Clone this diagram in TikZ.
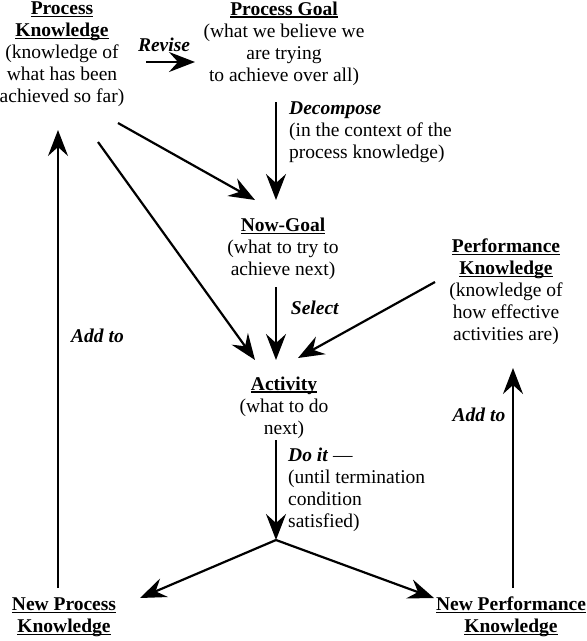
\documentclass[tikz,border=0pt]{standalone}
\usepackage{fontspec}
\setmainfont{Liberation Serif}
\usetikzlibrary{arrows.meta}
\newcommand{\hd}[1]{\setbox0\hbox{\textbf{#1}}\rlap{\rule[-2.6pt]{\wd0}{1.3pt}}\box0}
\newcommand{\lb}[1]{\textbf{\textit{#1}}}
\begin{document}
\begin{tikzpicture}[x=1pt,y=-1pt,
  txt/.style={inner sep=0pt, align=center, font=\fontsize{19.5}{22}\selectfont},
  ltxt/.style={inner sep=0pt, align=left, font=\fontsize{19.5}{22}\selectfont},
  arr/.style={line width=2.2pt, -{Stealth[length=26pt,width=20pt,inset=9pt]}},
  ln/.style={line width=2.2pt}]
\useasboundingbox (0,0) rectangle (587,641);
% nodes
\node[txt] (pk) at (62,54) {\hd{Process}\\\hd{Knowledge}\\(knowledge of\\what has been\\achieved so far)};
\node[txt] (pg) at (284,43.5) {\hd{Process Goal}\\(what we believe we\\are trying\\to achieve over all)};
\node[txt] (ng) at (283,249) {\hd{Now-Goal}\\(what to try to\\achieve next)};
\node[txt] (pfk) at (506,291.5) {\hd{Performance}\\\hd{Knowledge}\\(knowledge of\\how effective\\activities are)};
\node[txt] (act) at (284,407.5) {\hd{Activity}\\(what to do\\next)};
\node[txt] (npk) at (64,617) {\hd{New Process}\\\hd{Knowledge}};
\node[txt] (npfk) at (511,617) {\hd{New Performance}\\\hd{Knowledge}};
% labels
\node[txt] (lrev) at (164,45) {\lb{Revise}};
\node[ltxt, anchor=west] (ldec) at (289,132) {\lb{Decompose}\\(in the context of the\\process knowledge)};
\node[txt] (lsel) at (315,308) {\lb{Select}};
\node[txt] (ladd1) at (97.5,336) {\lb{Add to}};
\node[txt] (ladd2) at (479,415) {\lb{Add to}};
\node[ltxt, anchor=west] (ldo) at (288,489.5) {\lb{Do it} ---\\(until termination\\condition\\satisfied)};
% connector end points
\coordinate (revA) at (146,62);
\coordinate (revB) at (195,62);
\coordinate (decA) at (276,102);
\coordinate (ngTop) at (276,200);
\coordinate (pkA) at (118,123);
\coordinate (ngIn) at (255,200);
\coordinate (pkB) at (98,142);
\coordinate (actL) at (255,360);
\coordinate (selA) at (276,287);
\coordinate (actM) at (276,360);
\coordinate (pfA) at (435,282);
\coordinate (actR) at (298,358);
\coordinate (doA) at (276,440);
\coordinate (br) at (276,540);
\coordinate (npkIn) at (140,598);
\coordinate (npfkIn) at (434,598);
\coordinate (npkUp) at (58,588);
\coordinate (pkIn) at (58,130);
\coordinate (npfkUp) at (513,588);
\coordinate (pfkIn) at (513,368);
% connectors
\draw[arr] (revA) -- (revB);
\draw[arr] (decA) -- (ngTop);
\draw[arr] (pkA) -- (ngIn);
\draw[arr] (pkB) -- (actL);
\draw[arr] (selA) -- (actM);
\draw[arr] (pfA) -- (actR);
\draw[arr] (doA) -- (br);
\draw[arr] (br) -- (npkIn);
\draw[arr] (br) -- (npfkIn);
\draw[arr] (npkUp) -- (pkIn);
\draw[arr] (npfkUp) -- (pfkIn);
\end{tikzpicture}
\end{document}
